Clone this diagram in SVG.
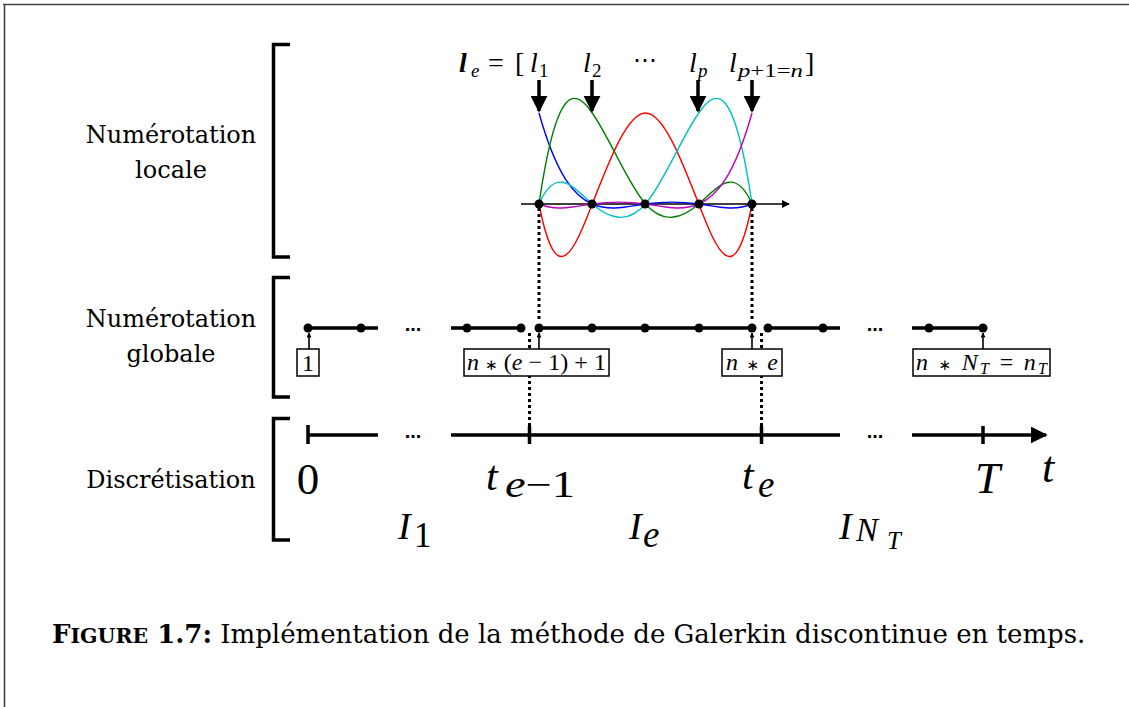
<svg xmlns="http://www.w3.org/2000/svg" width="1129" height="707" viewBox="0 0 1129 707">
<defs>
<style>
.lbl{font-family:"DejaVu Serif","Liberation Serif",serif;font-size:24px;fill:#000;text-anchor:middle}
.m{fill:#000;font-family:"Liberation Serif","Times New Roman",serif}
.i{font-style:italic}
.ast{font-family:"DejaVu Sans",sans-serif;font-size:15px;font-style:normal}
.brk{fill:none;stroke:#000;stroke-width:3.5}
.thick{stroke:#000;stroke-width:3.5;fill:none}
.dot{fill:#000}
.dotted{stroke:#000;stroke-width:3;stroke-dasharray:3 3;fill:none}
.box{fill:#fff;stroke:#000;stroke-width:1.5}
.curve{fill:none;stroke-width:1.4;vector-effect:non-scaling-stroke}
.thin{stroke:#000;stroke-width:1.6;fill:none}
.ell{font-family:"Liberation Sans",Arial,sans-serif;font-weight:bold;font-size:20px;text-anchor:middle}
</style>
<marker id="ah" viewBox="0 0 10 10" refX="9" refY="5" markerWidth="5" markerHeight="5" orient="auto" markerUnits="userSpaceOnUse"><path d="M0,0 L10,5 L0,10 z" fill="#000"/></marker>
<marker id="ahs" viewBox="0 0 10 10" refX="9" refY="5" markerWidth="8" markerHeight="8" orient="auto" markerUnits="userSpaceOnUse"><path d="M0,0 L10,5 L0,10 z" fill="#000"/></marker>
<marker id="ahb" viewBox="0 0 10 10" refX="9" refY="5" markerWidth="17" markerHeight="17" orient="auto" markerUnits="userSpaceOnUse"><path d="M0,0 L10,5 L0,10 z" fill="#000"/></marker>
</defs>
<rect width="1129" height="707" fill="#fff"/>
<path d="M3,4.5 H1129 M4.5,4 V707" stroke="#444" stroke-width="1.6" fill="none"/>

<g id="labels-left">
<text class="lbl" x="171" y="143">Numérotation</text>
<text class="lbl" x="171" y="178">locale</text>
<text class="lbl" x="171" y="327">Numérotation</text>
<text class="lbl" x="171" y="362">globale</text>
<text class="lbl" x="171" y="488">Discrétisation</text>
</g>

<g id="brackets">
<path class="brk" d="M290,44.5 H273.5 V257 H290"/>
<path class="brk" d="M290,277.5 H273.5 V397 H290"/>
<path class="brk" d="M290,418.5 H273.5 V540 H290"/>
</g>

<g id="local-plot">
<line class="thin" x1="521" y1="204" x2="789" y2="204" marker-end="url(#ahs)"/>
<g transform="translate(539,204) scale(53.25,-91)">
<path class="curve" stroke="#0000ff" d="M0,1 C0.3333,0.3056 0.6667,0.0833 1,0 C1.3333,-0.0833 1.6667,-0.0278 2,0 C2.3333,0.0278 2.6667,0.0278 3,0 C3.3333,-0.0278 3.6667,-0.0833 4,0"/>
<path class="curve" stroke="#008000" d="M0,0 C0.3333,1.3333 0.6667,1.2778 1,1 C1.3333,0.7222 1.6667,0.2222 2,0 C2.3333,-0.2222 2.6667,-0.1667 3,0 C3.3333,0.1667 3.6667,0.4444 4,0"/>
<path class="curve" stroke="#ff0000" d="M0,0 C0.3333,-1 0.6667,-0.5 1,0 C1.3333,0.5 1.6667,1 2,1 C2.3333,1 2.6667,0.5 3,0 C3.3333,-0.5 3.6667,-1 4,0"/>
<path class="curve" stroke="#00bfbf" d="M0,0 C0.3333,0.4444 0.6667,0.1667 1,0 C1.3333,-0.1667 1.6667,-0.2222 2,0 C2.3333,0.2222 2.6667,0.7222 3,1 C3.3333,1.2778 3.6667,1.3333 4,0"/>
<path class="curve" stroke="#bf00bf" d="M0,0 C0.3333,-0.0833 0.6667,-0.0278 1,0 C1.3333,0.0278 1.6667,0.0278 2,0 C2.3333,-0.0278 2.6667,-0.0833 3,0 C3.3333,0.0833 3.6667,0.3056 4,1"/>
</g>
<circle class="dot" cx="539" cy="204" r="4.5"/>
<circle class="dot" cx="592" cy="204" r="4.5"/>
<circle class="dot" cx="645" cy="204" r="4.5"/>
<circle class="dot" cx="699" cy="204" r="4.5"/>
<circle class="dot" cx="752" cy="204" r="4.5"/>
</g>

<g id="local-arrows">
<line x1="539" y1="80" x2="539" y2="111" stroke="#000" stroke-width="3.5" marker-end="url(#ahb)"/>
<line x1="592" y1="80" x2="592" y2="111" stroke="#000" stroke-width="3.5" marker-end="url(#ahb)"/>
<line x1="698" y1="80" x2="698" y2="111" stroke="#000" stroke-width="3.5" marker-end="url(#ahb)"/>
<line x1="752" y1="80" x2="752" y2="111" stroke="#000" stroke-width="3.5" marker-end="url(#ahb)"/>
</g>

<g id="local-vector" class="m" font-size="28">
<text x="459" y="72" font-weight="bold" font-style="italic">l</text>
<text x="471" y="77" font-size="19" font-style="italic">e</text>
<text x="488" y="72">=</text>
<text x="515" y="72">[</text>
<text x="530" y="72" class="i">l</text><text x="539" y="77" font-size="19">1</text>
<text x="583" y="72" class="i">l</text><text x="592" y="77" font-size="19">2</text>
<text x="645" y="68" text-anchor="middle" font-size="24">⋯</text>
<text x="689" y="72" class="i">l</text><text x="698" y="77" font-size="19" class="i">p</text>
<text x="729" y="72" class="i">l</text><text x="738" y="77" font-size="19" textLength="65" lengthAdjust="spacingAndGlyphs"><tspan class="i">p</tspan>+1=<tspan class="i">n</tspan></text>
<text x="805" y="72">]</text>
</g>

<g id="connectors">
<path class="dotted" d="M539,208 V320"/>
<path class="dotted" d="M752,208 V320"/>
<path class="dotted" d="M529.5,333 V428"/>
<path class="dotted" d="M761.5,333 V428"/>
</g>

<g id="global-line">
<path class="thick" d="M308,328 H378 M451,328 H521 M539,328 H752 M768,328 H840 M912,328 H983"/>
<circle class="dot" cx="308" cy="328" r="4.5"/>
<circle class="dot" cx="361" cy="328" r="4.5"/>
<circle class="dot" cx="467" cy="328" r="4.5"/>
<circle class="dot" cx="521" cy="328" r="4.5"/>
<circle class="dot" cx="539" cy="328" r="4.5"/>
<circle class="dot" cx="592" cy="328" r="4.5"/>
<circle class="dot" cx="645" cy="328" r="4.5"/>
<circle class="dot" cx="699" cy="328" r="4.5"/>
<circle class="dot" cx="752" cy="328" r="4.5"/>
<circle class="dot" cx="768" cy="328" r="4.5"/>
<circle class="dot" cx="823" cy="328" r="4.5"/>
<circle class="dot" cx="929" cy="328" r="4.5"/>
<circle class="dot" cx="983" cy="328" r="4.5"/>
<text class="ell" x="413" y="331">...</text>
<text class="ell" x="875" y="331">...</text>
</g>

<g id="box-1">
<line class="thin" x1="309" y1="349" x2="309" y2="333" marker-end="url(#ah)"/>
<rect class="box" x="297" y="349" width="22" height="27"/>
<text class="m" x="308" y="371" font-size="24" text-anchor="middle">1</text>
</g>
<g id="box-first">
<line class="thin" x1="539" y1="349" x2="539" y2="333" marker-end="url(#ah)"/>
<rect class="box" x="464" y="349" width="145" height="27"/>
<text class="m" x="467" y="370" font-size="24" textLength="139" lengthAdjust="spacing"><tspan class="i">n</tspan> <tspan class="ast">∗</tspan> (<tspan class="i">e</tspan> − 1) + 1</text>
</g>
<g id="box-last">
<line class="thin" x1="752" y1="349" x2="752" y2="333" marker-end="url(#ah)"/>
<rect class="box" x="722" y="349" width="60" height="27"/>
<text class="m" x="726" y="370" font-size="24" textLength="52" lengthAdjust="spacing"><tspan class="i">n</tspan> <tspan class="ast">∗</tspan> <tspan class="i">e</tspan></text>
</g>
<g id="box-total">
<line class="thin" x1="983" y1="349" x2="983" y2="333" marker-end="url(#ah)"/>
<rect class="box" x="913" y="349" width="137" height="27"/>
<text class="m" x="916" y="370" font-size="24" textLength="131" lengthAdjust="spacing"><tspan class="i">n</tspan> <tspan class="ast">∗</tspan> <tspan class="i">N</tspan><tspan class="i" font-size="16" dy="4">T</tspan><tspan dy="-4"> = </tspan><tspan class="i">n</tspan><tspan class="i" font-size="16" dy="4">T</tspan></text>
</g>

<g id="time-axis">
<path class="thick" d="M308,435 H378 M451,435 H840 M912,435 H1046" marker-end="url(#ahb)"/>
<path class="thick" d="M308,425 V444 M529.5,426 V444 M761.5,426 V444 M983,426 V444"/>
<text class="ell" x="413" y="438">...</text>
<text class="ell" x="875" y="438">...</text>
</g>

<g id="time-labels" class="m">
<text x="308" y="494" font-size="45" text-anchor="middle">0</text>
<text x="486" y="490" font-size="42" class="i">t</text><text x="505" y="497" font-size="37" textLength="70" lengthAdjust="spacingAndGlyphs"><tspan class="i">e</tspan>−1</text>
<text x="742" y="489" font-size="42" class="i">t</text><text x="758" y="497" font-size="37" class="i">e</text>
<text x="975" y="493" font-size="45" class="i">T</text>
<text x="1042" y="482" font-size="44" class="i">t</text>
<text x="398" y="539" font-size="38" class="i">I</text><text x="414" y="547" font-size="35">1</text>
<text x="629" y="539" font-size="38" class="i">I</text><text x="643" y="547" font-size="37" class="i">e</text>
<text x="839" y="539" font-size="38" class="i">I</text><text x="856" y="541" font-size="33" class="i">N</text><text x="887" y="549" font-size="25" class="i">T</text>
</g>

<g id="caption">
<text x="52" y="643" font-family="DejaVu Serif,Liberation Serif,serif" font-size="26"><tspan font-weight="bold">F<tspan font-size="20.5">IGURE</tspan> 1.7:</tspan> Implémentation de la méthode de Galerkin discontinue en temps.</text>
</g>
</svg>
